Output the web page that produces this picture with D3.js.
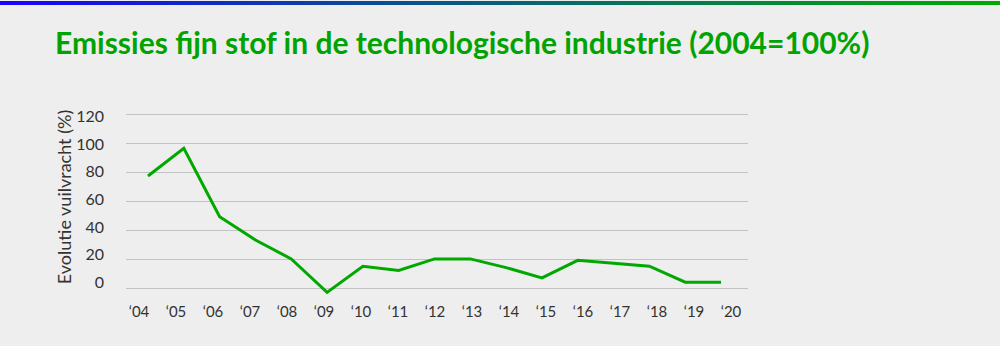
<!DOCTYPE html>
<html>
<head>
<meta charset="utf-8">
<script src="https://cdn.jsdelivr.net/npm/d3@7"></script>
<style>
  body { margin: 0; background: #eeeeee; }
  svg { display: block; }
</style>
</head>
<body>
<script>
var years = ["‘04", "‘05", "‘06", "‘07", "‘08", "‘09", "‘10", "‘11", "‘12",
             "‘13", "‘14", "‘15", "‘16", "‘17", "‘18", "‘19", "‘20"];
var values = [77, 96, 49, 33, 20, -3, 15, 12, 20, 20, 14, 7, 19, 17, 15, 4, 4];
var yTicks = [0, 20, 40, 60, 80, 100, 120];

var w = 1000, h = 346;
var svg = d3.select("body").append("svg")
    .attr("width", w)
    .attr("height", h);

// top gradient strip
var grad = svg.append("defs").append("linearGradient")
    .attr("id", "topbar");
grad.append("stop").attr("offset", "0%").attr("stop-color", "#1a00ff");
grad.append("stop").attr("offset", "40%").attr("stop-color", "#0a5090");
grad.append("stop").attr("offset", "60%").attr("stop-color", "#067060");
grad.append("stop").attr("offset", "100%").attr("stop-color", "#00aa00");
svg.append("rect")
    .attr("x", 0).attr("y", 1)
    .attr("width", w).attr("height", 4)
    .attr("fill", "url(#topbar)");

svg.append("text")
    .text("Emissies fijn stof in de technologische industrie (2004=100%)")
    .attr("x", 55)
    .attr("y", 54)
    .attr("font-family", "Lato, sans-serif")
    .attr("font-weight", "bold")
    .attr("font-size", "30px")
    .attr("fill", "#00a300");

var x = d3.scalePoint().domain(years).range([148, 721]);
var xLab = d3.scalePoint().domain(years).range([139, 731]);
var y = d3.scaleLinear().domain([0, 120]).range([288, 113.5]);
var yLab = d3.scaleLinear().domain([0, 120]).range([282, 116.7]);

// gridlines
svg.selectAll("line.grid")
    .data(yTicks)
    .enter()
    .append("line")
    .attr("class", "grid")
    .attr("x1", 126).attr("x2", 748)
    .attr("y1", function(d) { return Math.round(y(d)) + 0.5; })
    .attr("y2", function(d) { return Math.round(y(d)) + 0.5; })
    .attr("stroke", "#c2c2c2")
    .attr("stroke-width", 1);

svg.selectAll("text.ytick")
    .data(yTicks)
    .enter()
    .append("text")
    .attr("class", "ytick")
    .text(function(d) { return d; })
    .attr("x", 104)
    .attr("y", function(d) { return yLab(d); })
    .attr("dy", "0.35em")
    .attr("text-anchor", "end")
    .attr("font-family", "Lato, sans-serif")
    .attr("font-size", "16px")
    .attr("fill", "#333");

svg.selectAll("text.xtick")
    .data(years)
    .enter()
    .append("text")
    .attr("class", "xtick")
    .text(function(d) { return d; })
    .attr("x", function(d) { return xLab(d); })
    .attr("y", 317)
    .attr("text-anchor", "middle")
    .attr("font-family", "Lato, sans-serif")
    .attr("font-size", "15px")
    .attr("fill", "#333");

svg.append("text")
    .text("Evolutie vuilvracht (%)")
    .attr("transform", "translate(71,197) rotate(-90)")
    .attr("text-anchor", "middle")
    .attr("font-family", "Lato, sans-serif")
    .attr("font-size", "18px")
    .attr("fill", "#333");

var line = d3.line()
    .x(function(d, i) { return x(years[i]); })
    .y(function(d) { return y(d); });

svg.append("path")
    .datum(values)
    .attr("d", line)
    .attr("fill", "none")
    .attr("stroke", "#00a800")
    .attr("stroke-width", 3);
</script>
</body>
</html>
